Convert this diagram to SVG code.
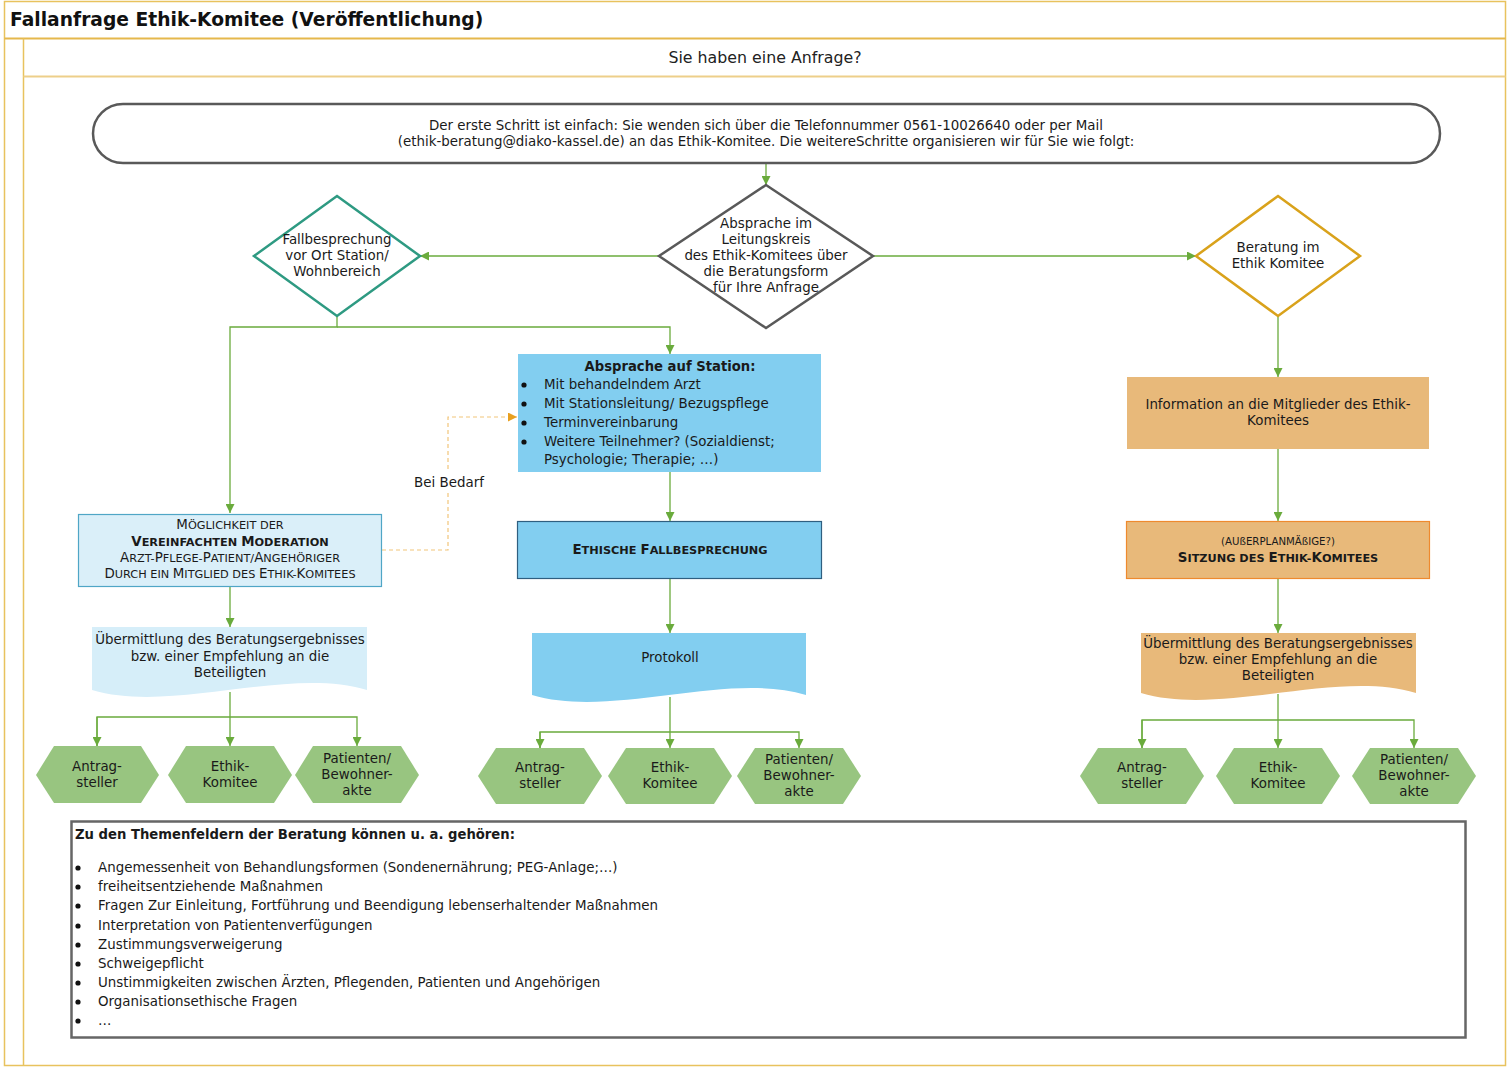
<svg xmlns="http://www.w3.org/2000/svg" width="1508" height="1067" viewBox="0 0 1508 1067">
<style>
text{font-family:"DejaVu Sans","Verdana",sans-serif;fill:#1a1a1a;font-size:13.4px}
.c{text-anchor:middle}
.b{font-weight:bold}
.s{font-size:11.3px}
.frame{fill:none;stroke:#E8C25E;stroke-width:1.5}
.con{fill:none;stroke:#6AAB3C;stroke-width:1.3}
.hex{fill:#98C580;stroke:none}
.blue{fill:#82CEF0}
.tan{fill:#E8B97A}
.li{font-size:13.4px}
</style>
<defs>
<marker id="ag" viewBox="0 0 10 10" refX="10" refY="5" markerWidth="9" markerHeight="9" markerUnits="userSpaceOnUse" orient="auto"><path d="M0,0 L10,5 L0,10 z" fill="#6AAB3C"/></marker>
<marker id="ao" viewBox="0 0 10 10" refX="10" refY="5" markerWidth="9" markerHeight="9" markerUnits="userSpaceOnUse" orient="auto"><path d="M0,0 L10,5 L0,10 z" fill="#E8A020"/></marker>
</defs>
<rect width="1508" height="1067" fill="#ffffff"/>
<g id="frame">
<rect x="4.5" y="1.5" width="1501" height="1064" class="frame"/>
<line x1="4.5" y1="38.5" x2="1505.5" y2="38.5" stroke="#E5B84C" stroke-width="2"/>
<line x1="23.5" y1="38.5" x2="23.5" y2="1065.5" class="frame"/>
<line x1="23.5" y1="76.5" x2="1505.5" y2="76.5" stroke="#EDCF8A" stroke-width="2"/>
<text x="10" y="26" class="b" style="font-size:18.7px;fill:#111">Fallanfrage Ethik-Komitee (Veröffentlichung)</text>
<text x="765" y="63" class="c" style="font-size:15.8px;fill:#222">Sie haben eine Anfrage?</text>
</g>
<g id="connectors">
<line x1="766" y1="163" x2="766" y2="185" class="con" marker-end="url(#ag)"/>
<line x1="659" y1="256" x2="420" y2="256" class="con" marker-end="url(#ag)"/>
<line x1="873" y1="256" x2="1196" y2="256" class="con" marker-end="url(#ag)"/>
<polyline points="337,316 337,327 230,327 230,513" class="con" marker-end="url(#ag)"/>
<polyline points="337,327 670,327 670,354" class="con" marker-end="url(#ag)"/>
<polyline points="382,550 448,550 448,417 517,417" fill="none" stroke="#F2C57A" stroke-width="1.2" stroke-dasharray="4,3" marker-end="url(#ao)"/>
<rect x="408" y="472" width="82" height="20" fill="#ffffff"/>
<text x="449" y="487" class="c">Bei Bedarf</text>
<line x1="670" y1="472" x2="670" y2="521" class="con" marker-end="url(#ag)"/>
<line x1="670" y1="578" x2="670" y2="633" class="con" marker-end="url(#ag)"/>
<line x1="230" y1="587" x2="230" y2="627" class="con" marker-end="url(#ag)"/>
<line x1="1278" y1="316" x2="1278" y2="377" class="con" marker-end="url(#ag)"/>
<line x1="1278" y1="449" x2="1278" y2="521" class="con" marker-end="url(#ag)"/>
<line x1="1278" y1="578" x2="1278" y2="633" class="con" marker-end="url(#ag)"/>
<line x1="230" y1="692" x2="230" y2="717" class="con"/>
<polyline points="97,746 97,717 357,717 357,746" class="con" marker-end="url(#ag)"/>
<line x1="97" y1="717" x2="97" y2="746" class="con" marker-end="url(#ag)"/>
<line x1="230" y1="717" x2="230" y2="746" class="con" marker-end="url(#ag)"/>
<line x1="670" y1="697" x2="670" y2="732" class="con"/>
<polyline points="540,748 540,732 799,732 799,748" class="con" marker-end="url(#ag)"/>
<line x1="540" y1="732" x2="540" y2="748" class="con" marker-end="url(#ag)"/>
<line x1="670" y1="732" x2="670" y2="748" class="con" marker-end="url(#ag)"/>
<line x1="1278" y1="694" x2="1278" y2="720" class="con"/>
<polyline points="1142,748 1142,720 1414,720 1414,748" class="con" marker-end="url(#ag)"/>
<line x1="1142" y1="720" x2="1142" y2="748" class="con" marker-end="url(#ag)"/>
<line x1="1278" y1="720" x2="1278" y2="748" class="con" marker-end="url(#ag)"/>
</g>
<g id="start">
<rect x="93" y="104" width="1347" height="59" rx="30" ry="30" fill="#ffffff" stroke="#595959" stroke-width="2.5"/>
<text x="766" y="130" class="c">Der erste Schritt ist einfach:  Sie wenden sich über die Telefonnummer 0561-10026640 oder per Mail</text>
<text x="766" y="146" class="c">(ethik-beratung@diako-kassel.de) an das Ethik-Komitee. Die weitereSchritte organisieren wir für Sie wie folgt:</text>
</g>
<g id="decision-main">
<polygon points="766,185 873,256 766,328 659,256" fill="#ffffff" stroke="#595959" stroke-width="2.5"/>
<text x="766" y="228" class="c">Absprache im</text>
<text x="766" y="244" class="c">Leitungskreis</text>
<text x="766" y="260" class="c">des Ethik-Komitees über</text>
<text x="766" y="276" class="c">die Beratungsform</text>
<text x="766" y="292" class="c">für Ihre Anfrage</text>
</g>
<g id="decision-left">
<polygon points="337,196 420,256 337,316 254,256" fill="#ffffff" stroke="#2E9A82" stroke-width="2.5"/>
<text x="337" y="244" class="c">Fallbesprechung</text>
<text x="337" y="260" class="c">vor Ort Station/</text>
<text x="337" y="276" class="c">Wohnbereich</text>
</g>
<g id="decision-right">
<polygon points="1278,196 1360,256 1278,316 1196,256" fill="#ffffff" stroke="#D9A21B" stroke-width="2.5"/>
<text x="1278" y="252" class="c">Beratung im</text>
<text x="1278" y="268" class="c">Ethik Komitee</text>
</g>
<g id="absprache-station">
<rect x="518" y="354" width="303" height="118" class="blue"/>
<text x="670" y="371" class="c b" style="font-size:13.2px">Absprache auf Station:</text>
<circle cx="524" cy="385" r="2.6" fill="#111"/>
<circle cx="524" cy="404" r="2.6" fill="#111"/>
<circle cx="524" cy="423" r="2.6" fill="#111"/>
<circle cx="524" cy="442" r="2.6" fill="#111"/>
<text x="544" y="389">Mit behandelndem Arzt</text>
<text x="544" y="408">Mit Stationsleitung/ Bezugspflege</text>
<text x="544" y="427">Terminvereinbarung</text>
<text x="544" y="446">Weitere Teilnehmer? (Sozialdienst;</text>
<text x="544" y="464">Psychologie; Therapie; …)</text>
</g>
<g id="ethische-fallbesprechung">
<rect x="517.5" y="521.5" width="304" height="57" class="blue" stroke="#2F5F80" stroke-width="1.2"/>
<text x="670" y="554" class="c b" style="font-size:13.4px">E<tspan class="s">THISCHE </tspan>F<tspan class="s">ALLBESPRECHUNG</tspan></text>
</g>
<g id="protokoll">
<path d="M532,633 H806 V695 C726,671 612,719 532,695 Z" class="blue"/>
<text x="670" y="662" class="c">Protokoll</text>
</g>
<g id="moderation">
<rect x="78.5" y="514.5" width="303" height="72" fill="#DAEFF9" stroke="#4FA6C6" stroke-width="1.2"/>
<text x="230" y="529" class="c" style="font-size:13.4px">M<tspan class="s">ÖGLICHKEIT DER</tspan></text>
<text x="230" y="546" class="c b" style="font-size:13.4px">V<tspan class="s">EREINFACHTEN </tspan>M<tspan class="s">ODERATION</tspan></text>
<text x="230" y="562" class="c" style="font-size:13.4px">A<tspan class="s">RZT-</tspan>P<tspan class="s">FLEGE-</tspan>P<tspan class="s">ATIENT/</tspan>A<tspan class="s">NGEHÖRIGER</tspan></text>
<text x="230" y="578" class="c" style="font-size:13.4px">D<tspan class="s">URCH EIN </tspan>M<tspan class="s">ITGLIED DES </tspan>E<tspan class="s">THIK-</tspan>K<tspan class="s">OMITEES</tspan></text>
</g>
<g id="uebermittlung-left">
<path d="M92,627 H367 V690 C287,666 172,714 92,690 Z" fill="#D6EEF9"/>
<text x="230" y="644" class="c">Übermittlung des Beratungsergebnisses</text>
<text x="230" y="661" class="c">bzw. einer Empfehlung an die</text>
<text x="230" y="677" class="c">Beteiligten</text>
</g>
<g id="information">
<rect x="1127" y="377" width="302" height="72" class="tan"/>
<text x="1278" y="409" class="c">Information an die Mitglieder des Ethik-</text>
<text x="1278" y="425" class="c">Komitees</text>
</g>
<g id="sitzung">
<rect x="1126.5" y="521.5" width="303" height="57" class="tan" stroke="#EE8A2E" stroke-width="1.2"/>
<text x="1278" y="545" class="c" style="font-size:10.2px">(AUßERPLANMÄßIGE?)</text>
<text x="1278" y="562" class="c b" style="font-size:13.4px">S<tspan class="s">ITZUNG DES </tspan>E<tspan class="s">THIK-</tspan>K<tspan class="s">OMITEES</tspan></text>
</g>
<g id="uebermittlung-right">
<path d="M1141,633 H1416 V693 C1336,669 1221,717 1141,693 Z" class="tan"/>
<text x="1278" y="648" class="c">Übermittlung des Beratungsergebnisses</text>
<text x="1278" y="664" class="c">bzw. einer Empfehlung an die</text>
<text x="1278" y="680" class="c">Beteiligten</text>
</g>
<g id="hex-l1"><polygon points="36,775 54,746 141,746 159,775 141,803 54,803" class="hex"/><text x="97" y="771" class="c">Antrag-</text><text x="97" y="787" class="c">steller</text></g>
<g id="hex-l2"><polygon points="168,775 186,746 274,746 292,775 274,803 186,803" class="hex"/><text x="230" y="771" class="c">Ethik-</text><text x="230" y="787" class="c">Komitee</text></g>
<g id="hex-l3"><polygon points="295,775 313,746 401,746 419,775 401,803 313,803" class="hex"/><text x="357" y="763" class="c">Patienten/</text><text x="357" y="779" class="c">Bewohner-</text><text x="357" y="795" class="c">akte</text></g>
<g id="hex-m1"><polygon points="478,776 496,748 584,748 602,776 584,804 496,804" class="hex"/><text x="540" y="772" class="c">Antrag-</text><text x="540" y="788" class="c">steller</text></g>
<g id="hex-m2"><polygon points="608,776 626,748 714,748 732,776 714,804 626,804" class="hex"/><text x="670" y="772" class="c">Ethik-</text><text x="670" y="788" class="c">Komitee</text></g>
<g id="hex-m3"><polygon points="737,776 755,748 843,748 861,776 843,804 755,804" class="hex"/><text x="799" y="764" class="c">Patienten/</text><text x="799" y="780" class="c">Bewohner-</text><text x="799" y="796" class="c">akte</text></g>
<g id="hex-r1"><polygon points="1080,776 1098,748 1186,748 1204,776 1186,804 1098,804" class="hex"/><text x="1142" y="772" class="c">Antrag-</text><text x="1142" y="788" class="c">steller</text></g>
<g id="hex-r2"><polygon points="1216,776 1234,748 1322,748 1340,776 1322,804 1234,804" class="hex"/><text x="1278" y="772" class="c">Ethik-</text><text x="1278" y="788" class="c">Komitee</text></g>
<g id="hex-r3"><polygon points="1352,776 1370,748 1458,748 1476,776 1458,804 1370,804" class="hex"/><text x="1414" y="764" class="c">Patienten/</text><text x="1414" y="780" class="c">Bewohner-</text><text x="1414" y="796" class="c">akte</text></g>
<g id="themenfelder">
<rect x="71.5" y="821.5" width="1394" height="216" fill="#ffffff" stroke="#666666" stroke-width="2.5"/>
<text x="75" y="839" class="b" style="font-size:13.2px">Zu den Themenfeldern der Beratung können u. a. gehören:</text>
<g fill="#111">
<circle cx="78" cy="868" r="2.6"/><circle cx="78" cy="887" r="2.6"/><circle cx="78" cy="906" r="2.6"/><circle cx="78" cy="926" r="2.6"/><circle cx="78" cy="945" r="2.6"/><circle cx="78" cy="964" r="2.6"/><circle cx="78" cy="983" r="2.6"/><circle cx="78" cy="1002" r="2.6"/><circle cx="78" cy="1021" r="2.6"/>
</g>
<text x="98" y="872" class="li">Angemessenheit von Behandlungsformen (Sondenernährung; PEG-Anlage;…)</text>
<text x="98" y="891" class="li">freiheitsentziehende Maßnahmen</text>
<text x="98" y="910" class="li">Fragen Zur Einleitung, Fortführung und Beendigung lebenserhaltender Maßnahmen</text>
<text x="98" y="930" class="li">Interpretation von Patientenverfügungen</text>
<text x="98" y="949" class="li">Zustimmungsverweigerung</text>
<text x="98" y="968" class="li">Schweigepflicht</text>
<text x="98" y="987" class="li">Unstimmigkeiten zwischen Ärzten, Pflegenden, Patienten und Angehörigen</text>
<text x="98" y="1006" class="li">Organisationsethische Fragen</text>
<text x="98" y="1025" class="li">…</text>
</g>
</svg>
